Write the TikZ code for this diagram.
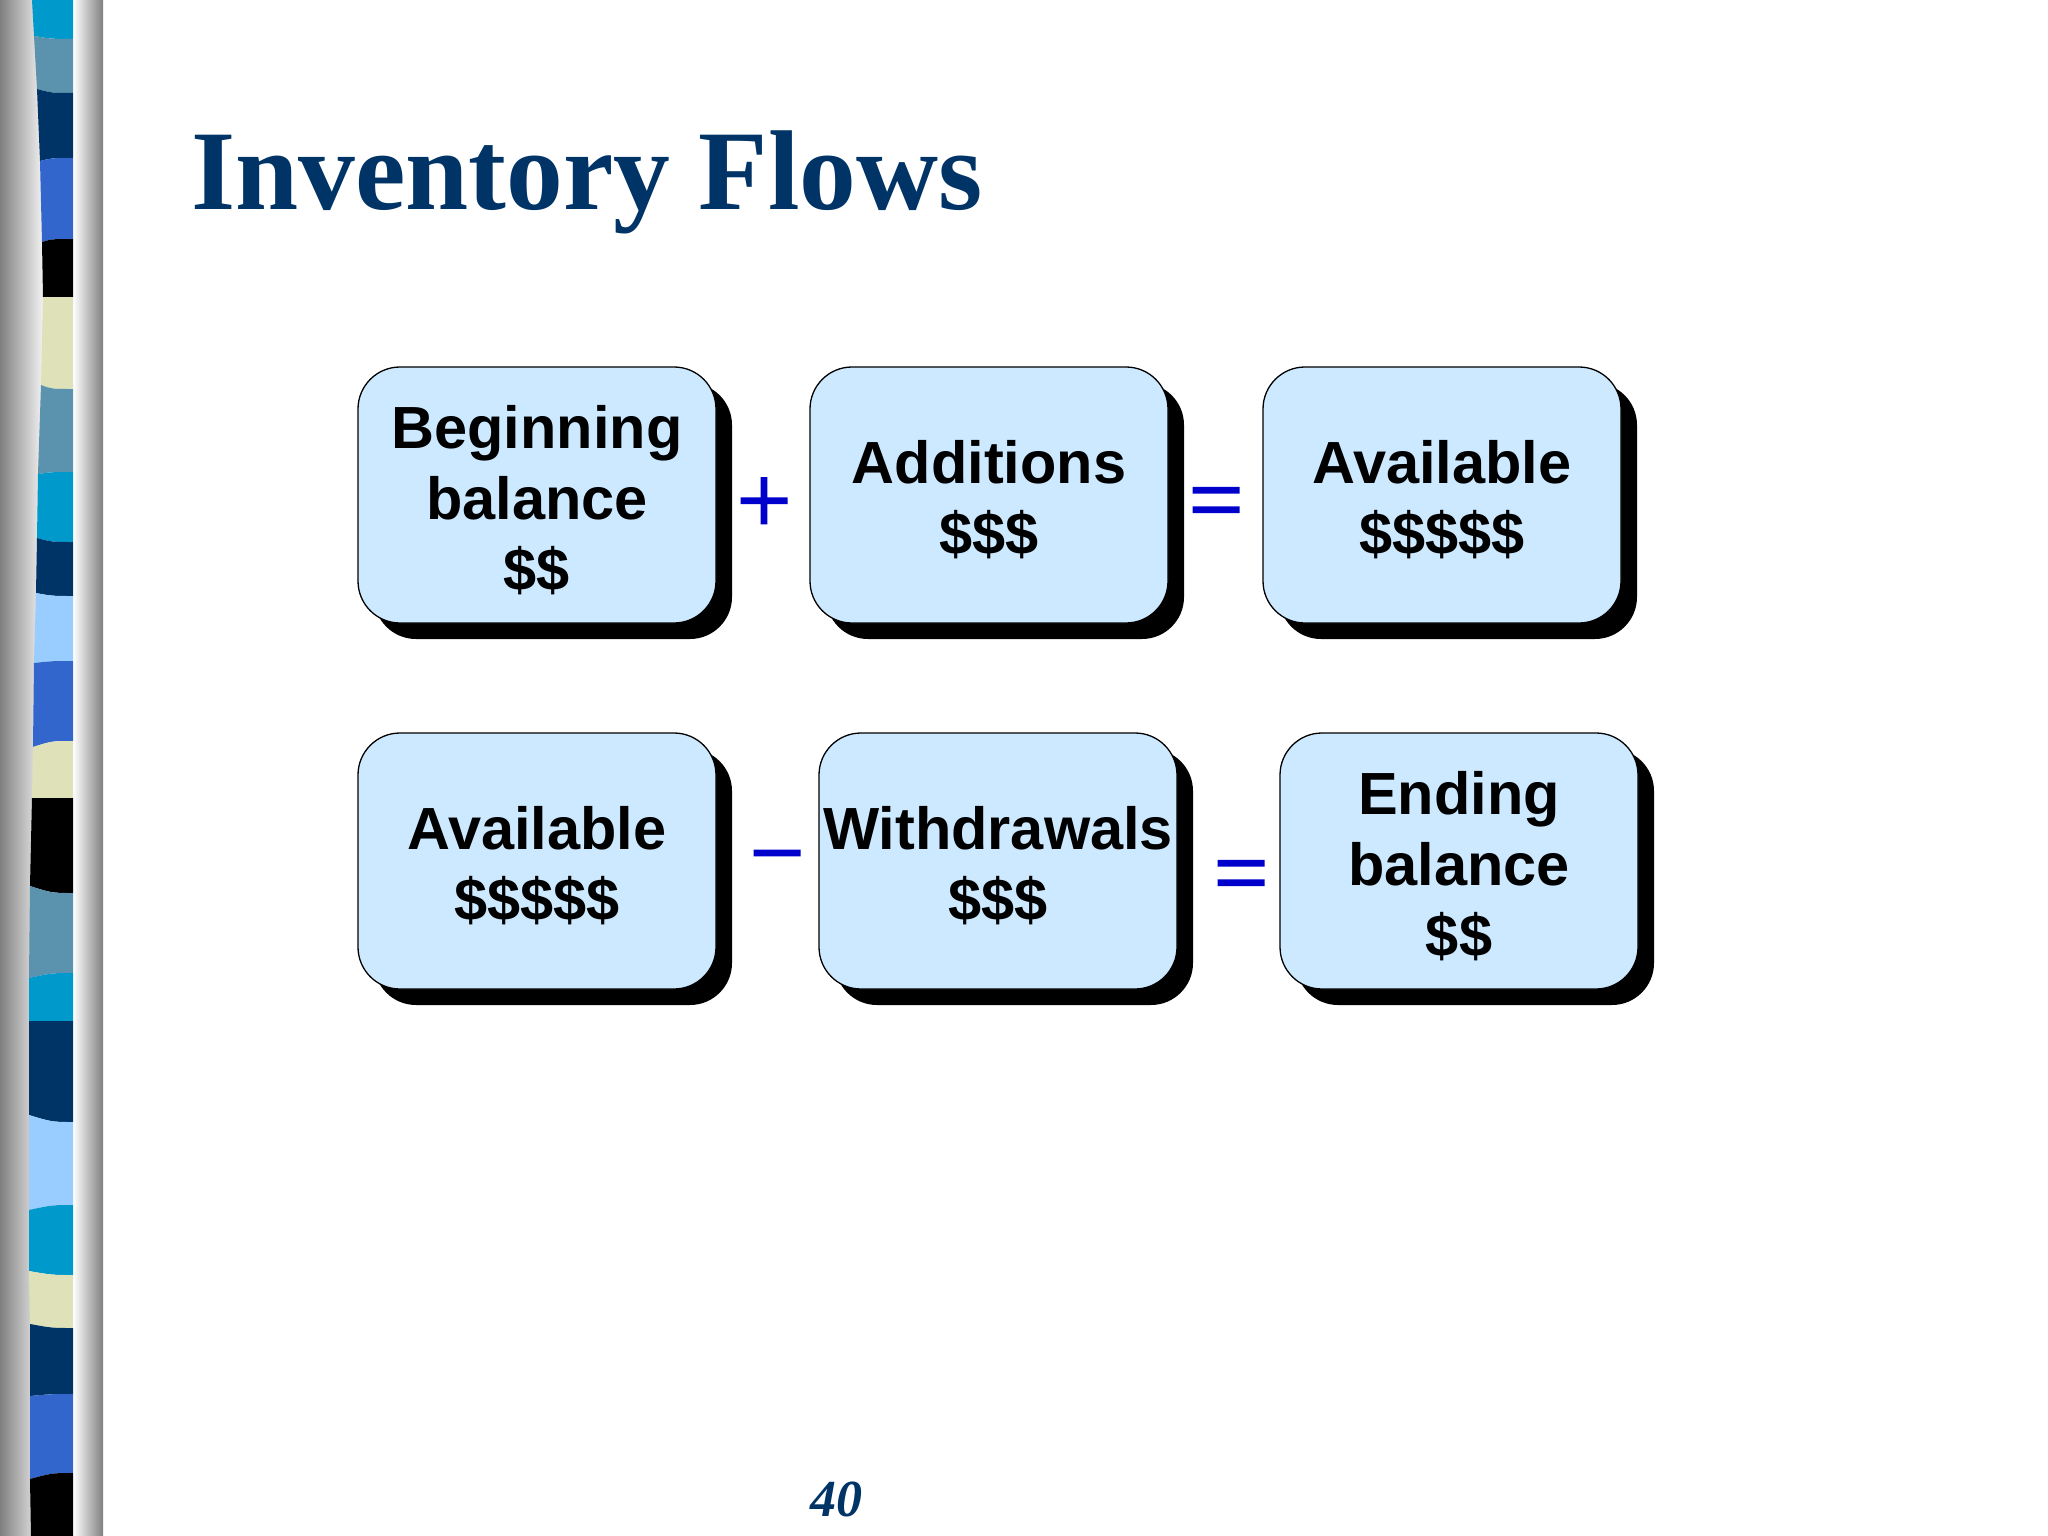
\documentclass[tikz,border=0pt]{standalone}
\usepackage{fontspec}
\setmainfont{Liberation Sans}
\newfontfamily\titlefont{Liberation Serif}
\newfontfamily\signfont[FakeBold=2]{Liberation Serif}
\usetikzlibrary{shadows}
\definecolor{navy}{HTML}{003366}
\definecolor{teal}{HTML}{5B92AD}
\definecolor{cyan}{HTML}{0099CC}
\definecolor{midblue}{HTML}{3366CC}
\definecolor{skyblue}{HTML}{99CCFF}
\definecolor{khaki}{HTML}{DFE2B8}
\definecolor{boxblue}{HTML}{CCE9FF}
\definecolor{signblue}{HTML}{0000CC}
\newcommand{\lift}{\rule{0pt}{53pt}}

\begin{document}
\begin{tikzpicture}[x=1pt,y=-1pt,
		box/.style={draw=black,line width=1.3pt,fill=boxblue,rounded corners=42pt,minimum width=358pt,minimum height=256pt,
			align=center,inner sep=0pt,font=\fontsize{59.5}{71}\selectfont\bfseries,
			drop shadow={shadow xshift=16pt,shadow yshift=-16pt,fill=black,opacity=1}},
		sign/.style={text=signblue,inner sep=0pt,font=\fontsize{97}{97}\signfont\selectfont}]
		\useasboundingbox (0,0) rectangle (2048,1536);
		\shade[left color=gray,right color=white!95!black] (0,0) rectangle (43,1536);
		\shade[left color=white,middle color=white!78!black,right color=gray] (73,0) rectangle (103,1536);
		\foreach \xa/\ya/\yb/\xb/\yc/\yd/\colr in {
			32/0/0/34/36/39/cyan,
			34/36/39/37/89/93/teal,
			37/89/93/40/161/158/navy,
			40/161/158/42/242/239/midblue,
			42/242/239/43/297/297/black,
			43/297/297/41/385/389/khaki,
			41/385/389/38/474/472/teal,
			38/474/472/37/538/542/cyan,
			37/538/542/36/593/596/navy,
			36/593/596/34/663/661/skyblue,
			34/663/661/33/747/741/midblue,
			33/747/741/32/798/798/khaki,
			32/798/798/30/886/893/black,
			30/886/893/29/978/973/teal,
			29/978/973/29/1021/1021/cyan,
			29/1021/1021/29/1115/1122/navy,
			29/1115/1122/29/1210/1205/skyblue,
			29/1210/1205/29/1271/1275/cyan,
			29/1271/1275/30/1324/1328/khaki,
			30/1324/1328/30/1396/1394/navy,
			30/1396/1394/30/1479/1473/midblue,
			30/1479/1473/31/1536/1536/black} {
			\fill[\colr] (\xa,\ya) .. controls (52,\yb) .. (73,\yb) -- (73,\yd) .. controls (52,\yd) .. (\xb,\yc) -- cycle;
		}
		\node[anchor=base west,inner sep=0pt,text=navy,font=\fontsize{113.5}{114}\selectfont\titlefont\bfseries] (title) at (191,209) {Inventory Flows};
		\node[box] (begin) at (537,495) {\lift Beginning\\balance\\\$\$};
		\node[box] (add) at (989,495) {\lift Additions\\\$\$\$};
		\node[box] (availa) at (1442,495) {\lift Available\\\$\$\$\$\$};
		\node[box] (availb) at (537,861) {\lift Available\\\$\$\$\$\$};
		\node[box] (withdraw) at (998,861) {\lift Withdrawals\\\$\$\$};
		\node[box] (ending) at (1459,861) {\lift Ending\\balance\\\$\$};
		\node[sign] (plus) at (764,505.5) {+};
		\node[sign] (equala) at (1216,510) {=};
		\node[sign] (minus) at (777,868) {−};
		\node[sign] (equalb) at (1241,883) {=};
		\node[text=navy,inner sep=0pt,font=\fontsize{52}{52}\selectfont\titlefont\bfseries\itshape] (page) at (836,1499) {40};
	\end{tikzpicture}
\end{document}
